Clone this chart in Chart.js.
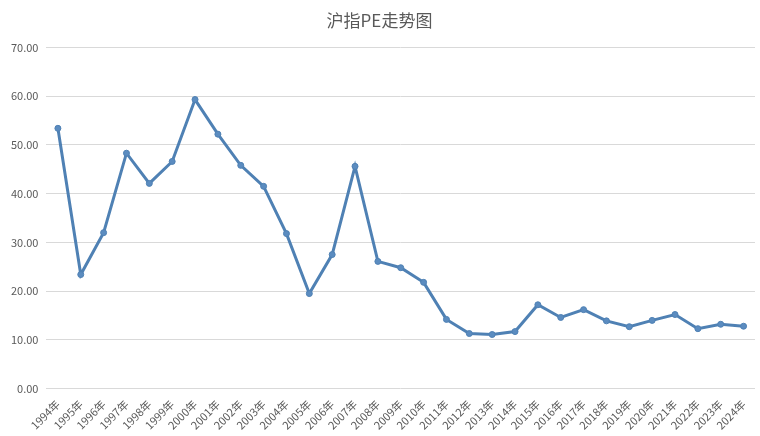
<!DOCTYPE html>
<html>
<head>
<meta charset="utf-8">
<script src="https://cdn.jsdelivr.net/npm/chart.js@4/dist/chart.umd.min.js"></script>
<style>
  html, body { margin: 0; padding: 0; background: #fff; }
  #wrap { width: 760px; height: 436px; }
</style>
</head>
<body>
<div id="wrap"><canvas id="chartCanvas"></canvas></div>
<script>
const years = [
  "1994年", "1995年", "1996年", "1997年", "1998年", "1999年", "2000年", "2001年",
  "2002年", "2003年", "2004年", "2005年", "2006年", "2007年", "2008年", "2009年",
  "2010年", "2011年", "2012年", "2013年", "2014年", "2015年", "2016年", "2017年",
  "2018年", "2019年", "2020年", "2021年", "2022年", "2023年", "2024年"
];

const peValues = [
  53.4, 23.4, 32.0, 48.3, 42.1, 46.6, 59.3, 52.2,
  45.8, 41.5, 31.8, 19.5, 27.5, 45.6, 26.1, 24.8,
  21.8, 14.2, 11.3, 11.1, 11.7, 17.2, 14.6, 16.2,
  13.9, 12.7, 14.0, 15.2, 12.3, 13.2, 12.8
];

const yTicks = [0, 10, 20, 30, 40, 50, 60, 70];

const font = "'Noto Sans CJK SC', 'Noto Sans', sans-serif";

const ctx = document.getElementById("chartCanvas").getContext("2d");
new Chart(ctx, {
  type: "line",
  data: {
    labels: years,
    datasets: [{
      label: "沪指PE",
      data: peValues,
      borderColor: "#4f81b4",
      backgroundColor: "#4f81b4",
      borderWidth: 3,
      pointRadius: 3,
      pointBackgroundColor: "#5b8cc0",
      pointBorderColor: "#4f81b4",
      pointBorderWidth: 1,
      tension: 0
    }]
  },
  options: {
    responsive: true,
    maintainAspectRatio: false,
    animation: false,
    layout: { padding: { left: 3, right: 4, top: 4, bottom: 3 } },
    plugins: {
      legend: { display: false },
      tooltip: { enabled: false },
      title: {
        display: true,
        text: "沪指PE走势图",
        color: "#595959",
        font: { family: font, size: 17, weight: "normal" },
        padding: { top: 6, bottom: 17 }
      }
    },
    scales: {
      x: {
        offset: true,
        grid: { display: false },
        border: { display: false },
        ticks: {
          color: "#595959",
          font: { family: font, size: 11 },
          maxRotation: 45,
          minRotation: 45,
          autoSkip: false,
          padding: 1
        }
      },
      y: {
        min: 0,
        max: 70,
        afterBuildTicks: (axis) => {
          axis.ticks = yTicks.map((v) => ({ value: v }));
        },
        grid: { color: "#d9d9d9", lineWidth: 1, drawTicks: false },
        border: { display: false },
        ticks: {
          color: "#595959",
          font: { family: font, size: 11 },
          padding: 8,
          callback: (v) => Number(v).toFixed(2)
        }
      }
    }
  }
});
</script>
</body>
</html>
